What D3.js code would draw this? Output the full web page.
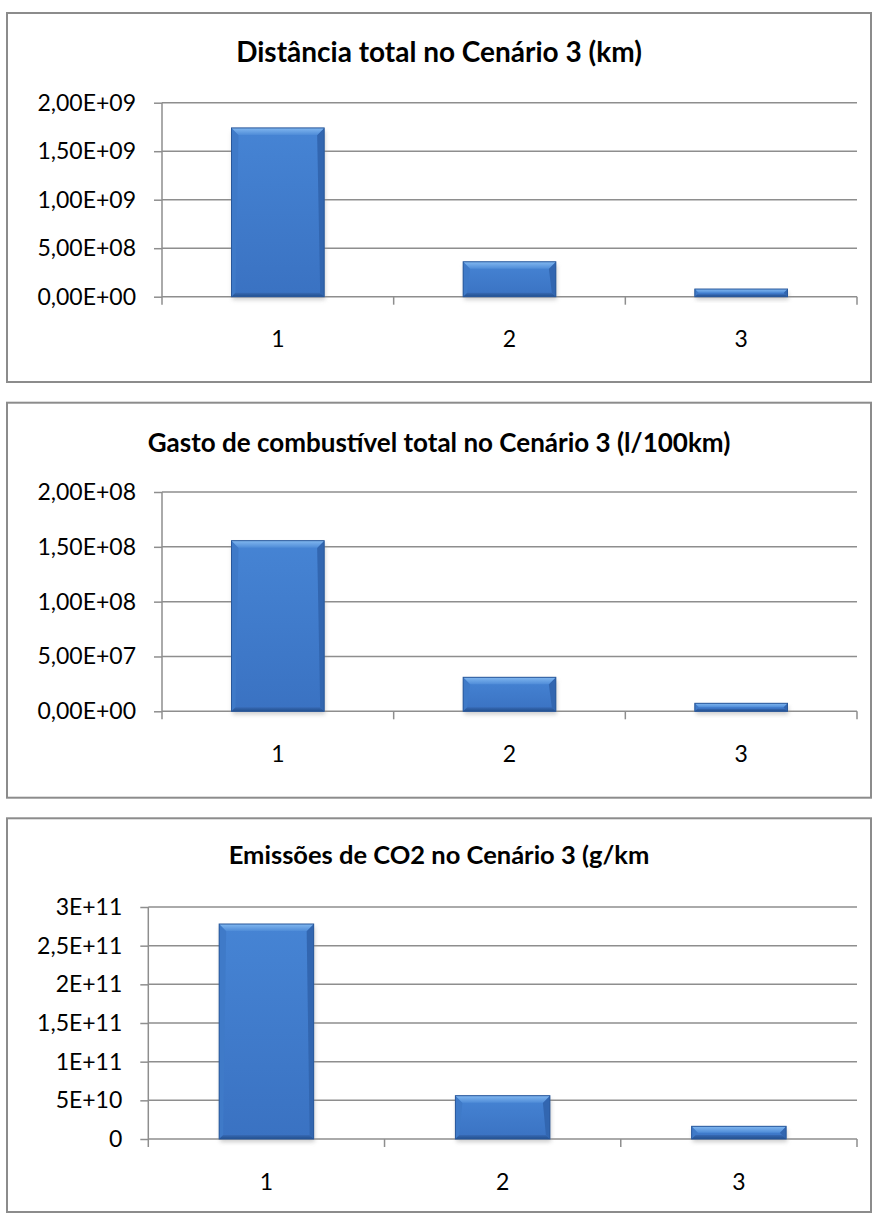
<!DOCTYPE html>
<html>
<head>
<meta charset="utf-8">
<script src="https://cdn.jsdelivr.net/npm/d3@7"></script>
<style>
  html, body { margin: 0; padding: 0; background: #ffffff; }
  svg { display: block; }
  text { font-family: Lato, "Open Sans", sans-serif; fill: #000; }
</style>
</head>
<body>
<svg id="chart" width="873" height="1218"></svg>
<script>
// Categories shared by all three panels
const categories = ["1", "2", "3"];

// Panel 1: total distance (km)
const distanceValues = [1.74e9, 3.6e8, 7.9e7];
const distanceTicks = [0, 5e8, 1e9, 1.5e9, 2e9];
const distanceTickLabels = ["0,00E+00", "5,00E+08", "1,00E+09", "1,50E+09", "2,00E+09"];

// Panel 2: total fuel use (l/100km)
const fuelValues = [1.556e8, 3.1e7, 7.3e6];
const fuelTicks = [0, 5e7, 1e8, 1.5e8, 2e8];
const fuelTickLabels = ["0,00E+00", "5,00E+07", "1,00E+08", "1,50E+08", "2,00E+08"];

// Panel 3: CO2 emissions (g/km)
const co2Values = [2.78e11, 5.6e10, 1.64e10];
const co2Ticks = [0, 5e10, 1e11, 1.5e11, 2e11, 2.5e11, 3e11];
const co2TickLabels = ["0", "5E+10", "1E+11", "1,5E+11", "2E+11", "2,5E+11", "3E+11"];

const titles = [
  "Distância total no Cenário 3 (km)",
  "Gasto de combustível total no Cenário 3 (l/100km)",
  "Emissões de CO2 no Cenário 3 (g/km"
];

const svg = d3.select("#chart");
const defs = svg.append("defs");

// Soft drop shadow under each bar
const shadow = defs.append("filter").attr("id", "barShadow")
  .attr("x", "-20%").attr("y", "-20%").attr("width", "140%").attr("height", "160%");
shadow.append("feGaussianBlur").attr("stdDeviation", 2.2);

// Face gradient of the bars
const face = defs.append("linearGradient").attr("id", "barFace")
  .attr("x1", 0).attr("y1", 0).attr("x2", 0).attr("y2", 1);
face.append("stop").attr("offset", "0%").attr("stop-color", "#4684d4");
face.append("stop").attr("offset", "100%").attr("stop-color", "#3a72c2");

const topBevel = defs.append("linearGradient").attr("id", "barTop")
  .attr("x1", 0).attr("y1", 0).attr("x2", 0).attr("y2", 1);
topBevel.append("stop").attr("offset", "0%").attr("stop-color", "#82b8f0");
topBevel.append("stop").attr("offset", "100%").attr("stop-color", "#4f8cd8");

const bottomBevel = defs.append("linearGradient").attr("id", "barBottom")
  .attr("x1", 0).attr("y1", 0).attr("x2", 0).attr("y2", 1);
bottomBevel.append("stop").attr("offset", "0%").attr("stop-color", "#3769b4");
bottomBevel.append("stop").attr("offset", "100%").attr("stop-color", "#22508e");

const panels = [
  { title: titles[0], values: distanceValues, ticks: distanceTicks, labels: distanceTickLabels,
    box: [7, 13, 871, 382], plot: [162, 102.7, 857, 296.7], titleY: 62, labelY: 347, titleSize: 28 },
  { title: titles[1], values: fuelValues, ticks: fuelTicks, labels: fuelTickLabels,
    box: [7, 402.7, 871, 797.7], plot: [162, 492, 857, 711.3], titleY: 452, labelY: 762, titleSize: 26 },
  { title: titles[2], values: co2Values, ticks: co2Ticks, labels: co2TickLabels,
    box: [7, 818.3, 871, 1212], plot: [148.3, 907, 857, 1139], titleY: 864, labelY: 1190, titleSize: 25.5 }
];

const gridColor = "#8e8e8e";

panels.forEach(p => {
  const [bx0, by0, bx1, by1] = p.box;
  const [px0, py0, px1, py1] = p.plot;
  const g = svg.append("g");

  // Chart frame
  g.append("rect")
    .attr("x", bx0).attr("y", by0)
    .attr("width", bx1 - bx0).attr("height", by1 - by0)
    .attr("fill", "#fff").attr("stroke", "#8c8c8c").attr("stroke-width", 2);

  // Title
  g.append("text")
    .attr("x", (bx0 + bx1) / 2).attr("y", p.titleY)
    .attr("text-anchor", "middle")
    .style("font-weight", "bold").style("font-size", p.titleSize + "px")
    .text(p.title);

  const y = d3.scaleLinear()
    .domain([0, d3.max(p.ticks)])
    .range([py1, py0]);
  const x = d3.scaleBand()
    .domain(categories)
    .range([px0, px1])
    .paddingInner(0.6).paddingOuter(0.3);
  const xEdges = d3.scalePoint()
    .domain(d3.range(categories.length + 1))
    .range([px0, px1]);

  // Horizontal gridlines
  g.append("g").selectAll("line")
    .data(p.ticks.slice(1))
    .join("line")
    .attr("x1", px0).attr("x2", px1)
    .attr("y1", d => y(d)).attr("y2", d => y(d))
    .attr("stroke", gridColor).attr("stroke-width", 1.5);

  // Y axis
  const yAxis = g.append("g")
    .attr("transform", `translate(${px0},0)`)
    .call(d3.axisLeft(y)
      .tickValues(p.ticks)
      .tickFormat((d, i) => p.labels[i])
      .tickSize(8).tickPadding(18));
  yAxis.select(".domain").attr("stroke", gridColor).attr("stroke-width", 1.5)
    .attr("d", `M0,${py0}V${py1 + 8}`);
  yAxis.selectAll(".tick line").attr("stroke", gridColor).attr("stroke-width", 1.5);
  yAxis.selectAll(".tick text")
    .style("font-family", "Lato, 'Open Sans', sans-serif")
    .style("font-size", "23px").attr("fill", "#000");

  // X axis line with boundary ticks
  g.append("line")
    .attr("x1", px0).attr("x2", px1).attr("y1", py1).attr("y2", py1)
    .attr("stroke", gridColor).attr("stroke-width", 1.5);
  g.append("g").selectAll("line")
    .data(d3.range(categories.length + 1).slice(1))
    .join("line")
    .attr("x1", d => xEdges(d)).attr("x2", d => xEdges(d))
    .attr("y1", py1).attr("y2", py1 + 8)
    .attr("stroke", gridColor).attr("stroke-width", 1.5);

  // Category labels
  g.append("g").selectAll("text")
    .data(categories)
    .join("text")
    .attr("x", d => x(d) + x.bandwidth() / 2)
    .attr("y", p.labelY)
    .attr("text-anchor", "middle")
    .style("font-size", "23px")
    .text(d => d);

  // Bars with a bevelled look
  const bars = g.append("g").selectAll("g")
    .data(p.values.map((v, i) => ({ cat: categories[i], v })))
    .join("g");

  bars.each(function (d) {
    const bar = d3.select(this);
    const bx = x(d.cat), bw = x.bandwidth();
    const top = y(d.v), h = y(0) - y(d.v);
    const b = Math.min(7, h / 2);
    const bb = Math.min(4, h / 3);

    bar.append("rect")
      .attr("x", bx + 1).attr("y", top + 3)
      .attr("width", bw).attr("height", h)
      .attr("fill", "#9a9a9a").attr("opacity", 0.5)
      .attr("filter", "url(#barShadow)");

    bar.append("rect")
      .attr("x", bx).attr("y", top).attr("width", bw).attr("height", h)
      .attr("fill", "url(#barFace)");

    const pts = (arr) => arr.map(q => q.join(",")).join(" ");
    // left bevel
    bar.append("polygon")
      .attr("points", pts([[bx, top], [bx + b, top + b], [bx + bb, top + h - bb], [bx, top + h]]))
      .attr("fill", "#3f7ac8");
    // right bevel
    bar.append("polygon")
      .attr("points", pts([[bx + bw, top], [bx + bw - b, top + b], [bx + bw - bb, top + h - bb], [bx + bw, top + h]]))
      .attr("fill", "#3266b0");
    // bottom bevel
    bar.append("polygon")
      .attr("points", pts([[bx, top + h], [bx + bb, top + h - bb], [bx + bw - bb, top + h - bb], [bx + bw, top + h]]))
      .attr("fill", "url(#barBottom)");
    // top bevel
    bar.append("polygon")
      .attr("points", pts([[bx, top], [bx + bw, top], [bx + bw - b, top + b], [bx + b, top + b]]))
      .attr("fill", "url(#barTop)");

    bar.append("rect")
      .attr("x", bx).attr("y", top).attr("width", bw).attr("height", h)
      .attr("fill", "none").attr("stroke", "#28579a").attr("stroke-width", 1);
  });
});
</script>
</body>
</html>
